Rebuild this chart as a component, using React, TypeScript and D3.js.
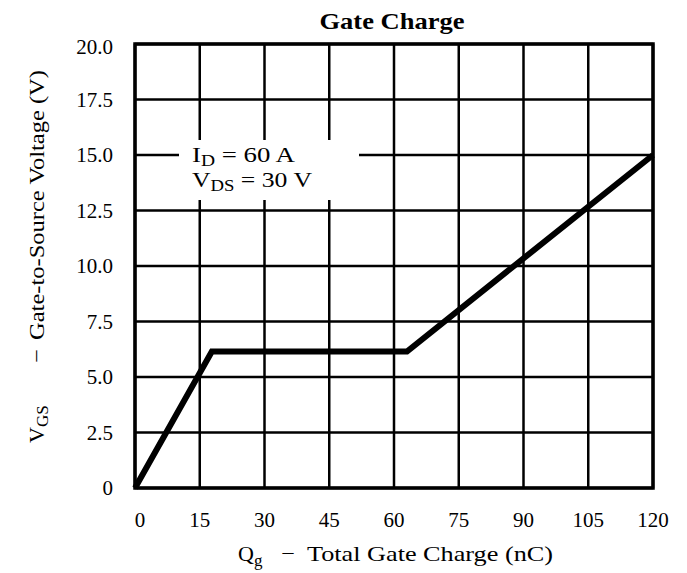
import React from 'react'
import * as d3 from 'd3'

const xTicks = [0, 15, 30, 45, 60, 75, 90, 105, 120]
const yTicks = [0, 2.5, 5.0, 7.5, 10.0, 12.5, 15.0, 17.5, 20.0]
const qg = [0, 17.8, 63, 120]
const vgs = [0, 6.15, 6.15, 15]

const W = 687, H = 573
const left = 135, right = 653, top = 44, bottom = 488

export default function App() {
  const x = d3.scaleLinear().domain([0, 120]).range([left, right])
  const y = d3.scaleLinear().domain([0, 20]).range([bottom, top])
  const pts: [number, number][] = qg.map((q, i) => [q, vgs[i]])
  const line = d3.line<[number, number]>().x(d => x(d[0])).y(d => y(d[1]))
  const font = '"Liberation Serif", "Times New Roman", serif'

  return (
    <svg width={W} height={H} style={{position: 'absolute', left: 0, top: 0, background: '#fff'}} fontFamily={font}>
      <text x={392} y={29} textAnchor='middle' fontSize={23} fontWeight='bold' textLength={145} lengthAdjust='spacingAndGlyphs'>Gate Charge</text>
      {xTicks.map(t => (
        <line key={'gx' + t} x1={x(t)} x2={x(t)} y1={top} y2={bottom} stroke='#000' strokeWidth={2.5} />
      ))}
      {yTicks.map(t => (
        <line key={'gy' + t} x1={left} x2={right} y1={y(t)} y2={y(t)} stroke='#000' strokeWidth={2.5} />
      ))}
      <rect x={179} y={140} width={180} height={60} fill='#fff' />
      <rect x={left} y={top} width={right - left} height={bottom - top} fill='none' stroke='#000' strokeWidth={3.5} />
      <path d={line(pts) || ''} fill='none' stroke='#000' strokeWidth={6} strokeLinejoin='miter' />
      <text x={192} y={162} fontSize={22} textLength={103} lengthAdjust='spacingAndGlyphs'>
        I<tspan dy={4} fontSize={16}>D</tspan><tspan dy={-4}> = 60 A</tspan>
      </text>
      <text x={192} y={187} fontSize={22} textLength={120} lengthAdjust='spacingAndGlyphs'>
        V<tspan dy={4} fontSize={16}>DS</tspan><tspan dy={-4}> = 30 V</tspan>
      </text>
      {yTicks.map(t => (
        <text key={'ly' + t} x={113} y={y(t) + (t === 20 ? 10 : 7)} textAnchor='end' fontSize={21}>
          {t === 0 ? '0' : d3.format('.1f')(t)}
        </text>
      ))}
      {xTicks.map(t => (
        <text key={'lx' + t} x={x(t) + (t === 0 ? 5 : 0)} y={527} textAnchor='middle' fontSize={21}>{t}</text>
      ))}
      {/* x axis title */}
      <text x={238} y={561} fontSize={22}>
        Q<tspan dy={5} fontSize={17}>g</tspan>
      </text>
      <text x={288} y={559} fontSize={22} textAnchor='middle'>{'\u2013'}</text>
      <text x={307} y={561} fontSize={22} textLength={246} lengthAdjust='spacingAndGlyphs'>Total Gate Charge (nC)</text>
      {/* y axis title */}
      <g transform='translate(44,0) rotate(-90)'>
        <text x={-443} y={0} fontSize={22}>
          V<tspan dy={4} fontSize={17}>GS</tspan>
        </text>
        <text x={-356} y={-2} fontSize={22} textAnchor='middle'>{'\u2013'}</text>
        <text x={-340} y={0} fontSize={22} textLength={270} lengthAdjust='spacingAndGlyphs'>Gate-to-Source Voltage (V)</text>
      </g>
    </svg>
  )
}
